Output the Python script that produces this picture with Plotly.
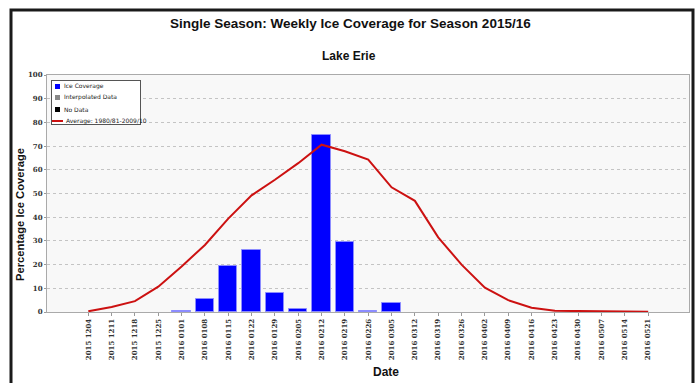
import plotly.graph_objects as go

# Weekly dates (YYYY MMDD) for the 2015/16 ice season
weeks = [
    "2015 1204", "2015 1211", "2015 1218", "2015 1225", "2016 0101",
    "2016 0108", "2016 0115", "2016 0122", "2016 0129", "2016 0205",
    "2016 0212", "2016 0219", "2016 0226", "2016 0305", "2016 0312",
    "2016 0319", "2016 0326", "2016 0402", "2016 0409", "2016 0416",
    "2016 0423", "2016 0430", "2016 0507", "2016 0514", "2016 0521",
]

# Lake Erie weekly ice coverage (%)
ice_coverage = [
    0, 0, 0, 0, 0.4,
    5.4, 19.3, 26.2, 8.2, 1.4,
    74.6, 29.4, 0.3, 3.6, 0,
    0, 0, 0, 0, 0,
    0, 0, 0, 0, 0,
]

# Average coverage 1980/81-2009/10 (%)
average_cov = [
    0.3, 2.1, 4.6, 10.7, 19.2,
    28.3, 39.4, 49.2, 55.8, 62.8,
    70.6, 67.8, 64.3, 52.6, 46.9,
    31.5, 20.0, 10.3, 5.0, 1.8,
    0.5, 0.4, 0.3, 0.2, 0.1,
]

y_ticks = list(range(0, 101, 10))

W, H = 699, 383
L, R, T, B = 47, 10, 75, 71
pw, ph = W - L - R, H - T - B


def px(x):
    return (x - L) / pw


def py(y):
    return (H - B - y) / ph


fig = go.Figure()

fig.add_trace(go.Bar(
    x=weeks, y=ice_coverage, width=0.79,
    marker=dict(color="#0000ff",
                line=dict(color="#8c8cff",
                          width=[1 if v > 0 else 0 for v in ice_coverage])),
    showlegend=False,
))

fig.add_trace(go.Scatter(
    x=weeks, y=average_cov, mode="lines",
    line=dict(color="#cc1111", width=2),
    showlegend=False,
))

axis_font = dict(family="DejaVu Serif", size=7, color="#333333", weight="bold")

fig.update_xaxes(
    type="category", range=[-1.77, 25.75],
    tickangle=-90, tickfont=axis_font,
    ticks="outside", ticklen=3, tickcolor="#999999",
    showgrid=False, showline=True, linecolor="#aaaaaa", mirror=True,
    zeroline=False,
)
fig.update_yaxes(
    range=[0, 100], tickvals=y_ticks, ticktext=[str(v) for v in y_ticks],
    tickfont=axis_font, ticks="outside", ticklen=2, tickcolor="#999999",
    showgrid=True, gridcolor="#c4c4c4", griddash="dot", gridwidth=1,
    showline=True, linecolor="#aaaaaa", mirror=True, zeroline=False,
)

annotations = [
    dict(text="Single Season: Weekly Ice Coverage for Season 2015/16",
         x=px(350), y=py(23), font=dict(family="Liberation Sans", size=13.5,
                                         color="#111111", weight="bold")),
    dict(text="Lake Erie", x=px(349), y=py(56),
         font=dict(family="Liberation Sans", size=12, color="#111111",
                   weight="bold")),
    dict(text="Percentage Ice Coverage", x=px(20), y=py(215), textangle=-90,
         font=dict(family="Liberation Sans", size=11.2, color="#111111",
                   weight="bold")),
    dict(text="Date", x=px(386), y=py(372),
         font=dict(family="Liberation Sans", size=12, color="#111111",
                   weight="bold")),
    # legend panel
    dict(text=" ", x=px(51), y=py(80), xanchor="left", yanchor="top",
         width=88, height=43, bgcolor="white", bordercolor="#555555",
         borderwidth=1, borderpad=0, font=dict(size=1)),
]

legend_items = [
    ("square", "#0000ff", "Ice Coverage", 86),
    ("square", "#888888", "Interpolated Data", 97.5),
    ("square", "#000000", "No Data", 109),
    ("line", "#cc1111", "Average: 1980/81-2009/10", 120.5),
]
for kind, color, label, yc in legend_items:
    if kind == "square":
        annotations.append(dict(text=" ", x=px(54.5), y=py(yc),
                                xanchor="left", width=5, height=5,
                                bgcolor=color, borderpad=0, borderwidth=0,
                                font=dict(size=1)))
        tx = 62
    else:
        annotations.append(dict(text=" ", x=px(52), y=py(yc),
                                xanchor="left", width=11, height=2,
                                bgcolor=color, borderpad=0, borderwidth=0,
                                font=dict(size=1)))
        tx = 64
    annotations.append(dict(text=label, x=px(tx), y=py(yc), xanchor="left",
                            font=dict(family="DejaVu Sans", size=6,
                                      color="#222222")))

for a in annotations:
    a.setdefault("xanchor", "center")
    a.setdefault("yanchor", "middle")
    a.update(xref="paper", yref="paper", showarrow=False)

shapes = [
    # outer frame
    dict(type="rect", x0=px(11), x1=px(693), y0=py(400), y1=py(10),
         xref="paper", yref="paper", line=dict(color="#1a1a1a", width=3)),
]

fig.update_layout(
    width=W, height=H,
    margin=dict(l=L, r=R, t=T, b=B),
    paper_bgcolor="white", plot_bgcolor="#f8f8f8",
    bargap=0, showlegend=False,
    annotations=annotations, shapes=shapes,
)

fig.write_html("out.html")
